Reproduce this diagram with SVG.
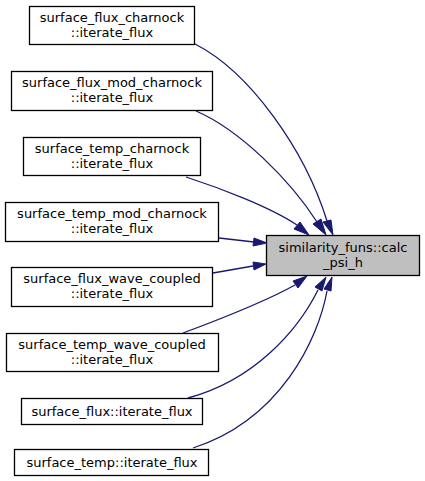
<svg xmlns="http://www.w3.org/2000/svg" width="425" height="481" viewBox="0 0 425 481">
<style>
.n rect{fill:#ffffff;stroke:#000000;stroke-width:1.3}
.t rect{fill:#bfbfbf;stroke:#000000;stroke-width:1.3}
text{font-family:"DejaVu Sans",sans-serif;font-size:13px;text-anchor:middle;fill:#000000}
.e path{fill:none;stroke:#191970;stroke-width:1.3}
.e polygon{fill:#191970;stroke:#191970;stroke-width:1}
</style>
<rect width="425" height="481" fill="#ffffff"/>
<g id="target" class="t"><rect x="266.5" y="235.5" width="153" height="40"/><text x="343" y="251.5">similarity_funs::calc</text><text x="343" y="266.5">_psi_h</text></g>
<g id="n1" class="n"><rect x="29.5" y="6.5" width="165" height="38"/><text x="112" y="22">surface_flux_charnock</text><text x="112" y="37">::iterate_flux</text></g>
<g id="n2" class="n"><rect x="11.5" y="71.5" width="201" height="39"/><text x="112" y="87">surface_flux_mod_charnock</text><text x="112" y="102">::iterate_flux</text></g>
<g id="n3" class="n"><rect x="23.5" y="137.5" width="177" height="38"/><text x="112" y="153">surface_temp_charnock</text><text x="112" y="168">::iterate_flux</text></g>
<g id="n4" class="n"><rect x="5.5" y="202.5" width="213" height="39"/><text x="112" y="218">surface_temp_mod_charnock</text><text x="112" y="233">::iterate_flux</text></g>
<g id="n5" class="n"><rect x="11.5" y="267.5" width="201" height="39"/><text x="112" y="283">surface_flux_wave_coupled</text><text x="112" y="298">::iterate_flux</text></g>
<g id="n6" class="n"><rect x="6.5" y="333.5" width="212" height="38"/><text x="112" y="349">surface_temp_wave_coupled</text><text x="112" y="364">::iterate_flux</text></g>
<g id="n7" class="n"><rect x="21.5" y="398.5" width="181" height="26"/><text x="112" y="416">surface_flux::iterate_flux</text></g>
<g id="n8" class="n"><rect x="14.5" y="449.5" width="194" height="26"/><text x="112" y="467">surface_temp::iterate_flux</text></g>
<g id="edges" class="e">
<path d="M195,44C250,72 305,150 327,221"/><polygon points="323,222 333,235 331,220"/>
<path d="M196,111C240,130 290,180 317,222"/><polygon points="313,224 326,235 321,219"/>
<path d="M186,177C220,188 270,207 297,225"/><polygon points="294,229 309,235 300,222"/>
<path d="M219,238L254,242"/><polygon points="253,246 267,243 254,238"/>
<path d="M213,273L253,266"/><polygon points="254,270 266,264 253,262"/>
<path d="M183,333C218,320 268,300 295,285"/><polygon points="298,288 307,276 293,281"/>
<path d="M188,398C255,380 298,330 318,290"/><polygon points="322,291 326,277 315,287"/>
<path d="M193,448C280,420 318,340 327,291"/><polygon points="331,291 332,277 324,289"/>
</g>
</svg>
